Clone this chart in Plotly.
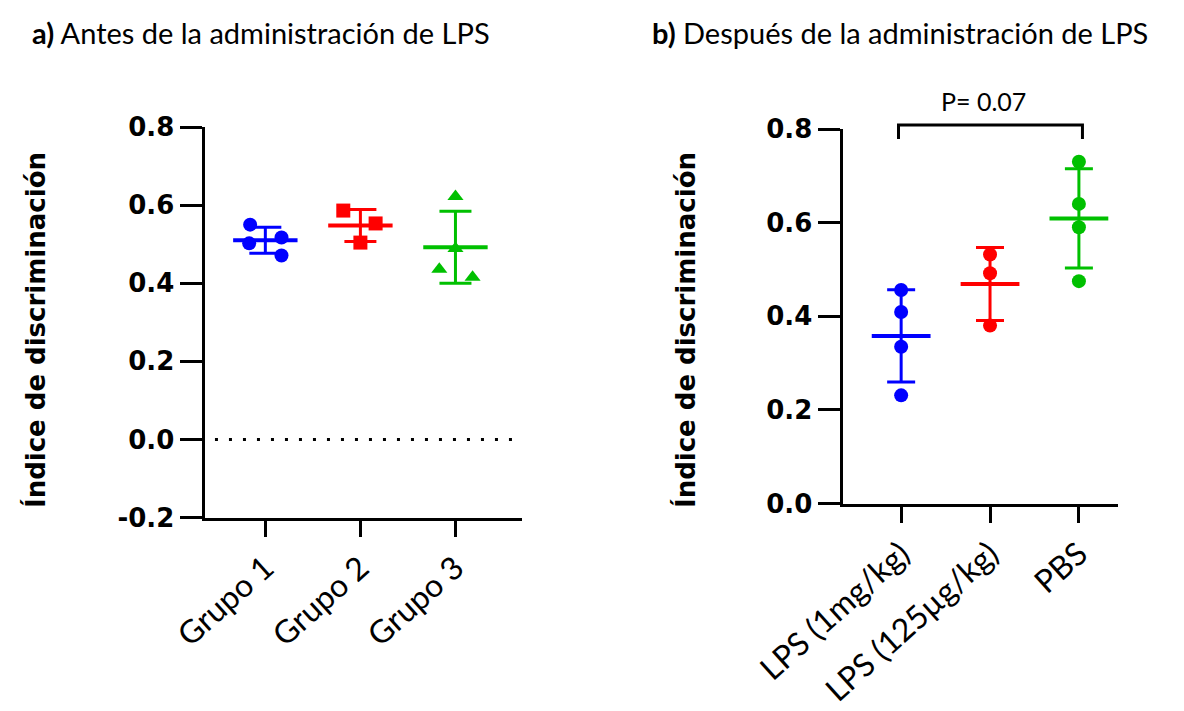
import plotly.graph_objects as go

# ---------------- data ----------------
groups_a = ["Grupo 1", "Grupo 2", "Grupo 3"]
grupo1 = [0.550, 0.502, 0.517, 0.471]
grupo2 = [0.586, 0.553, 0.504]
grupo3 = [0.622, 0.436, 0.415, 0.489]
means_a = [0.510, 0.548, 0.492]
sd_a = [0.033, 0.041, 0.092]
jitter1 = [-0.16, -0.17, 0.17, 0.17]
jitter2 = [-0.18, 0.16, 0.0]
jitter3 = [0.0, -0.17, 0.18, 0.0]

groups_b = ["LPS (1mg/kg)", "LPS (125µg/kg)", "PBS"]
lps_1mg = [0.456, 0.409, 0.335, 0.231]
lps_125ug = [0.532, 0.492, 0.380]
pbs = [0.730, 0.640, 0.590, 0.475]
means_b = [0.358, 0.469, 0.609]
sd_b = [0.0985, 0.078, 0.106]

yticks_a = [-0.2, 0.0, 0.2, 0.4, 0.6, 0.8]
yticks_b = [0.0, 0.2, 0.4, 0.6, 0.8]
p_text = "P= 0.07"

colors = ["#0000FF", "#FF0000", "#00C000"]
symbols_a = ["circle", "square", "triangle-up"]

# page body has an 8px margin; figure is sized so it fills the window
OFF = 8
FW, FH = 1184 - OFF, 711 - OFF


def X(px):
    return (px - OFF) / FW


def Y(py):
    return 1 - (py - OFF) / FH


fig = go.Figure()

# panel a
for i, (vals, jit) in enumerate(zip([grupo1, grupo2, grupo3], [jitter1, jitter2, jitter3])):
    fig.add_trace(go.Scatter(
        x=[i + j for j in jit], y=vals, mode="markers",
        marker=dict(symbol=symbols_a[i], size=14, color=colors[i]),
        xaxis="x", yaxis="y", showlegend=False, cliponaxis=False))
    fig.add_trace(go.Scatter(
        x=[i], y=[means_a[i]], mode="markers",
        marker=dict(symbol="line-ew", size=46, color=colors[i],
                    line=dict(color=colors[i], width=4)),
        error_y=dict(type="data", array=[sd_a[i]], color=colors[i], thickness=3, width=16),
        xaxis="x", yaxis="y", showlegend=False, cliponaxis=False))

# panel b
for i, vals in enumerate([lps_1mg, lps_125ug, pbs]):
    fig.add_trace(go.Scatter(
        x=[i] * len(vals), y=vals, mode="markers",
        marker=dict(symbol="circle", size=14, color=colors[i]),
        xaxis="x2", yaxis="y2", showlegend=False, cliponaxis=False))
    fig.add_trace(go.Scatter(
        x=[i], y=[means_b[i]], mode="markers",
        marker=dict(symbol="line-ew", size=42, color=colors[i],
                    line=dict(color=colors[i], width=4)),
        error_y=dict(type="data", array=[sd_b[i]], color=colors[i], thickness=3, width=14),
        xaxis="x2", yaxis="y2", showlegend=False, cliponaxis=False))

num_font = dict(family="DejaVu Sans", size=26, color="black", weight="bold")
cat_font = dict(family="Lato", size=32, color="black")

axis_common = dict(showline=True, linewidth=3, linecolor="black", ticks="outside",
                   tickwidth=3, tickcolor="black", showgrid=False, zeroline=False,
                   automargin=False)

fig.update_layout(
    template="none",
    width=FW, height=FH, margin=dict(l=0, r=0, t=0, b=0, autoexpand=False),
    plot_bgcolor="white", paper_bgcolor="white",
    xaxis=dict(domain=[X(204.5), X(522)], range=[-0.64, 2.70], anchor="y",
               tickvals=[0, 1, 2], ticktext=groups_a, tickangle=-42, ticklen=16,
               tickfont=cat_font, **axis_common),
    yaxis=dict(domain=[Y(517.5), Y(127)], range=[-0.2, 0.8], anchor="x",
               tickvals=yticks_a, ticktext=["%.1f" % v for v in yticks_a], ticklen=22,
               tickfont=num_font, **axis_common),
    xaxis2=dict(domain=[X(842.5), X(1118)], range=[-0.66, 2.44], anchor="y2",
                tickvals=[0, 1, 2], ticktext=groups_b, tickangle=-42, ticklen=16,
                tickfont=cat_font, **axis_common),
    yaxis2=dict(domain=[Y(503.5), Y(129)], range=[0.0, 0.8], anchor="x2",
                tickvals=yticks_b, ticktext=["%.1f" % v for v in yticks_b], ticklen=22,
                tickfont=num_font, **axis_common),
)

# dotted zero line in panel a
fig.add_shape(type="line", xref="x", yref="y", x0=-0.53, x1=2.64, y0=0, y1=0,
              line=dict(color="black", width=3, dash="3px,11px"))

# significance bracket in panel b
y_top = Y(125)
y_low = Y(139)
fig.add_shape(type="path", xref="x2", yref="paper",
              path=f"M -0.03,{y_low} L -0.03,{y_top} L 2.04,{y_top} L 2.04,{y_low}",
              line=dict(color="black", width=3))
fig.add_annotation(x=0.93, xref="x2", y=Y(101), yref="paper", text=p_text,
                   xanchor="center", yanchor="middle", showarrow=False,
                   font=dict(family="Lato", size=25, color="black"))

# y titles
for xp in [35, 685]:
    fig.add_annotation(x=X(xp), y=Y(330), xref="paper", yref="paper",
                       xanchor="center", yanchor="middle",
                       text="Índice de discriminación", textangle=-90, showarrow=False,
                       font=dict(family="DejaVu Sans", size=26, color="black", weight="bold"))

# panel titles
fig.add_annotation(x=X(30), y=Y(32), xref="paper", yref="paper",
                   xanchor="left", yanchor="middle",
                   text="<b>a)</b> Antes de la administración de LPS", showarrow=False,
                   font=dict(family="Lato", size=29, color="black"))
fig.add_annotation(x=X(650), y=Y(32), xref="paper", yref="paper",
                   xanchor="left", yanchor="middle",
                   text="<b>b)</b> Después de la administración de LPS", showarrow=False,
                   font=dict(family="Lato", size=29, color="black"))

fig.write_html("out.html")
